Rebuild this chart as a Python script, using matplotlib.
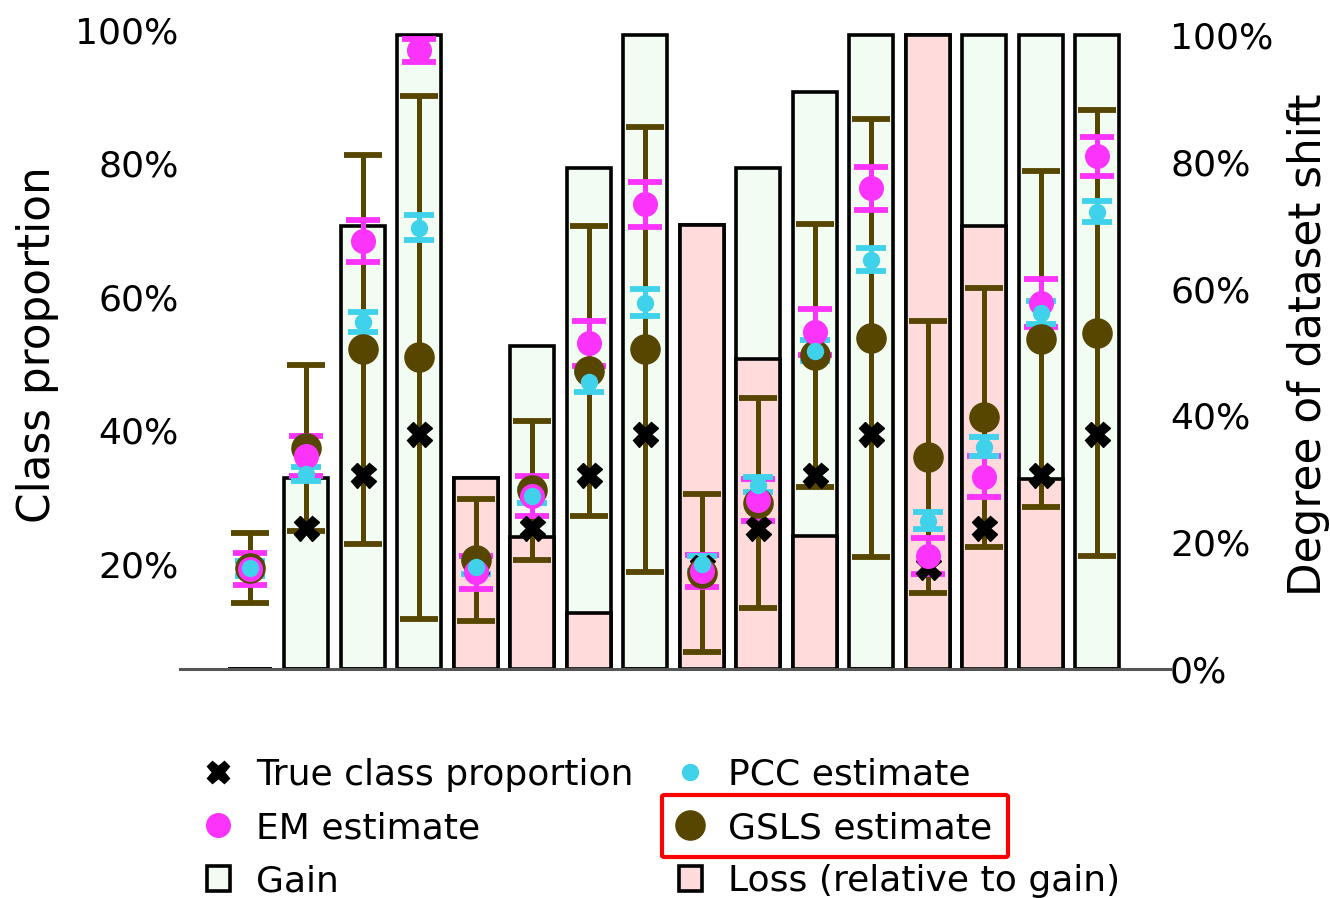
import matplotlib
matplotlib.use("Agg")
import matplotlib.pyplot as plt
import numpy as np
from matplotlib.patches import FancyBboxPatch, Patch
from matplotlib.lines import Line2D

plt.rcParams["font.family"] = ["DejaVu Sans"]

# one group per experiment
groups = np.arange(16)

true_prop = [0.195, 0.253, 0.333, 0.394, 0.195, 0.253, 0.333, 0.394,
             0.195, 0.253, 0.333, 0.394, 0.195, 0.253, 0.333, 0.394]

em_est = [0.192, 0.361, 0.683, 0.969, 0.187, 0.301, 0.530, 0.738,
          0.189, 0.295, 0.547, 0.762, 0.211, 0.330, 0.590, 0.810]
em_err = [0.024, 0.030, 0.032, 0.017, 0.025, 0.030, 0.034, 0.034,
          0.024, 0.031, 0.034, 0.032, 0.027, 0.031, 0.036, 0.029]

pcc_est = [0.193, 0.334, 0.562, 0.703, 0.195, 0.301, 0.472, 0.591,
           0.200, 0.318, 0.519, 0.655, 0.264, 0.375, 0.576, 0.727]
pcc_err = [0.011, 0.011, 0.015, 0.019, 0.011, 0.011, 0.015, 0.020,
           0.011, 0.011, 0.016, 0.017, 0.013, 0.014, 0.017, 0.016]

gsls_est = [0.193, 0.373, 0.521, 0.509, 0.205, 0.310, 0.488, 0.521,
            0.186, 0.291, 0.512, 0.538, 0.360, 0.419, 0.536, 0.545]
gsls_err = [0.052, 0.125, 0.291, 0.392, 0.091, 0.104, 0.217, 0.333,
            0.118, 0.157, 0.197, 0.328, 0.204, 0.194, 0.252, 0.334]

gain = [0.0, 0.301, 0.699, 1.0, 0.301, 0.509, 0.790, 1.0,
        0.700, 0.790, 0.910, 1.0, 1.0, 1.0, 1.0, 1.0]
loss = [0.0, 0.0, 0.0, 0.0, 0.301, 0.208, 0.088, 0.0,
        0.700, 0.489, 0.210, 0.0, 1.0, 0.699, 0.300, 0.0]

C_GAIN = "#f3fcf2"
C_LOSS = "#ffdcdb"
C_EM = "#fb33fb"
C_PCC = "#3fd2ea"
C_GSLS = "#574600"

fig = plt.figure(figsize=(13.3, 8.98), dpi=100)
ax = fig.add_axes([0.1353, 0.255, 0.7444, 0.7227])
ax2 = ax.twinx()

# bars live on the right axis, drawn below the points
ax2.set_zorder(0)
ax.set_zorder(1)
ax.patch.set_visible(False)

bar_w = 0.78
ax2.bar(groups, gain, width=bar_w, color=C_GAIN, edgecolor="black", linewidth=2.6)
ax2.bar(groups, loss, width=bar_w, color=C_LOSS, edgecolor="black", linewidth=2.6)

ax.errorbar(groups, gsls_est, yerr=gsls_err, fmt="o", color=C_GSLS, ms=21,
            elinewidth=3.6, capsize=14, capthick=4.2)
ax.errorbar(groups, em_est, yerr=em_err, fmt="o", color=C_EM, ms=17,
            elinewidth=3.6, capsize=12.5, capthick=4.2)
ax.errorbar(groups, pcc_est, yerr=pcc_err, fmt="o", color=C_PCC, ms=11.5,
            elinewidth=3.6, capsize=11, capthick=4.2)
ax.plot(groups, true_prop, "X", color="black", ms=18, linestyle="none")

ax.set_xlim(-1.24, 16.29)
ax.set_ylim(0.042, 1.0142)
ax2.set_ylim(0, 1.0237)

ax.set_yticks([0.2, 0.4, 0.6, 0.8, 1.0])
ax.set_yticklabels(["20%", "40%", "60%", "80%", "100%"])
ax2.set_yticks([0, 0.2, 0.4, 0.6, 0.8, 1.0])
ax2.set_yticklabels(["0%", "20%", "40%", "60%", "80%", "100%"])
ax.set_xticks([])

ax.tick_params(axis="y", length=0, pad=1, labelsize=26)
ax2.tick_params(axis="y", length=0, pad=0, labelsize=26)

for a in (ax, ax2):
    for s in ("top", "left", "right"):
        a.spines[s].set_visible(False)
ax2.spines["bottom"].set_visible(False)
ax.spines["bottom"].set_color("#555555")
ax.spines["bottom"].set_linewidth(2.2)

ax.set_ylabel("Class proportion", fontsize=31.5, labelpad=12)
ax2.set_ylabel("Degree of dataset shift", fontsize=31.5, labelpad=10)

# legend, filled column-wise
labels = ["True class proportion", "EM estimate", "Gain",
          "PCC estimate", "GSLS estimate", "Loss (relative to gain)"]
handles = [
    Line2D([], [], marker="X", color="black", ls="none", ms=16),
    Line2D([], [], marker="o", color=C_EM, ls="none", ms=17),
    Patch(facecolor=C_GAIN, edgecolor="black", linewidth=2.6),
    Line2D([], [], marker="o", color=C_PCC, ls="none", ms=11.5),
    Line2D([], [], marker="o", color=C_GSLS, ls="none", ms=21),
    Patch(facecolor=C_LOSS, edgecolor="black", linewidth=2.6),
]
fig.legend(handles, labels, ncol=2, loc="upper left",
           bbox_to_anchor=(0.1445, 0.172), frameon=False, fontsize=26,
           handlelength=0.65, handleheight=0.7, handletextpad=0.72,
           columnspacing=1.25, labelspacing=0.53, borderaxespad=0)

# red box highlighting the GSLS entry
box = FancyBboxPatch((662 / 1330, 1 - 857 / 898), (1008 - 662) / 1330,
                     (857 - 795) / 898, boxstyle="round,pad=0,rounding_size=0.002",
                     transform=fig.transFigure, fill=False, edgecolor="red",
                     linewidth=3)
fig.patches.append(box)

fig.savefig("out.png", dpi=100)
